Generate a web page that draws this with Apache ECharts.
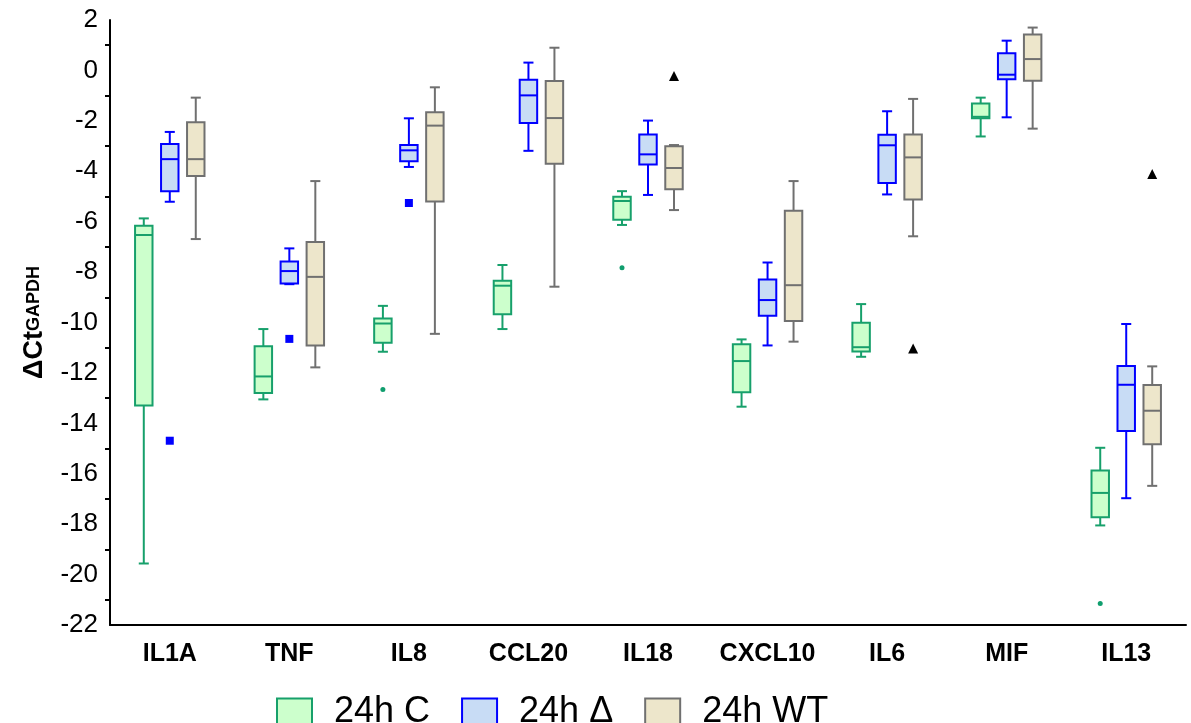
<!DOCTYPE html>
<html>
<head>
<meta charset="utf-8">
<script src="https://cdn.jsdelivr.net/npm/echarts@6/dist/echarts.min.js"></script>
<style>
  html, body { margin: 0; padding: 0; background: #fff; }
  #chart { width: 1191px; height: 723px; }
</style>
</head>
<body>
<div id="chart"></div>
<script>
// genes on the x axis
const categories = ['IL1A', 'TNF', 'IL8', 'CCL20', 'IL18', 'CXCL10', 'IL6', 'MIF', 'IL13'];

// box stats per gene: [min, Q1, median, Q3, max]
const boxC = [
  [-19.56, -13.29, -6.53, -6.16, -5.87],
  [-13.05, -12.80, -12.14, -10.94, -10.26],
  [-11.16, -10.80, -10.04, -9.84, -9.34],
  [-10.26, -9.67, -8.54, -8.34, -7.72],
  [-6.13, -5.92, -5.18, -5.01, -4.79],
  [-13.34, -12.77, -11.53, -10.86, -10.67],
  [-11.36, -11.15, -10.98, -10.01, -9.27],
  [-2.62, -1.90, -1.84, -1.31, -1.08],
  [-18.05, -17.73, -16.76, -15.87, -14.97]
];
const boxDelta = [
  [-5.21, -4.79, -3.52, -2.92, -2.44],
  [-8.48, -8.45, -7.96, -7.58, -7.06],
  [-3.83, -3.60, -3.17, -2.96, -1.90],
  [-3.19, -2.09, -0.99, -0.37, 0.31],
  [-4.94, -3.73, -3.33, -2.54, -1.99],
  [-10.91, -9.73, -9.11, -8.29, -7.62],
  [-4.92, -4.47, -2.97, -2.55, -1.62],
  [-1.86, -0.35, -0.17, 0.68, 1.18],
  [-16.97, -14.30, -12.47, -11.73, -10.06]
];
const boxWT = [
  [-6.69, -4.19, -3.52, -2.06, -1.08],
  [-11.78, -10.91, -8.19, -6.81, -4.39],
  [-10.45, -5.20, -2.19, -1.66, -0.67],
  [-8.58, -3.70, -1.89, -0.42, 0.90],
  [-5.54, -4.71, -3.87, -3.01, -2.96],
  [-10.76, -9.94, -8.52, -5.57, -4.39],
  [-6.58, -5.12, -3.45, -2.54, -1.13],
  [-2.31, -0.41, 0.45, 1.42, 1.70],
  [-16.48, -14.83, -13.50, -12.48, -11.74]
];

// outliers: [gene index, value]
const outC = [[2, -12.66], [4, -7.83], [8, -21.15]];
const outDelta = [[0, -14.69], [1, -10.65], [2, -5.26]];
const outWT = [[4, -0.22], [6, -11.03], [8, -4.11]];

const yTicks = { min: -22, max: 2, interval: 2 };

const FONT = '"Liberation Sans", Arial, sans-serif';
const STYLE = {
  C: { stroke: '#17a06b', fill: '#ccffcc' },
  D: { stroke: '#0000ff', fill: '#c8dcf5' },
  WT: { stroke: '#707070', fill: '#ede6cb' }
};

function boxRenderer(shift, st) {
  return function (params, api) {
    const c = api.value(0);
    const band = api.size([1, 0])[0];
    const x = api.coord([c, 0])[0] + shift * band;
    const py = i => api.coord([c, api.value(i)])[1];
    const yMin = py(1), yQ1 = py(2), yMed = py(3), yQ3 = py(4), yMax = py(5);
    const w = band * 0.146, cap = band * 0.084;
    const line = { stroke: st.stroke, lineWidth: 2 };
    return {
      type: 'group',
      children: [
        { type: 'line', shape: { x1: x, y1: yMax, x2: x, y2: yQ3 }, style: line },
        { type: 'line', shape: { x1: x, y1: yQ1, x2: x, y2: yMin }, style: line },
        { type: 'line', shape: { x1: x - cap / 2, y1: yMax, x2: x + cap / 2, y2: yMax }, style: line },
        { type: 'line', shape: { x1: x - cap / 2, y1: yMin, x2: x + cap / 2, y2: yMin }, style: line },
        { type: 'rect', shape: { x: x - w / 2, y: yQ3, width: w, height: yQ1 - yQ3 },
          style: { fill: st.fill, stroke: st.stroke, lineWidth: 2 } },
        { type: 'line', shape: { x1: x - w / 2, y1: yMed, x2: x + w / 2, y2: yMed }, style: line }
      ]
    };
  };
}

const toRows = arr => arr.map((b, i) => [i, ...b]);

const chart = echarts.init(document.getElementById('chart'));
chart.setOption({
  animation: false,
  grid: { left: 110, right: 5, top: 20, bottom: 98 },
  legend: {
    left: 276, top: 694, padding: 0,
    itemWidth: 35, itemHeight: 27, itemGap: 31,
    textStyle: { fontFamily: FONT, fontSize: 36, color: '#000', padding: [0, 0, 0, 17] },
    data: [
      { name: '24h C', icon: 'rect', itemStyle: { color: STYLE.C.fill, borderColor: STYLE.C.stroke, borderWidth: 2 } },
      { name: '24h Δ', icon: 'rect', itemStyle: { color: STYLE.D.fill, borderColor: STYLE.D.stroke, borderWidth: 2 } },
      { name: '24h WT', icon: 'rect', itemStyle: { color: STYLE.WT.fill, borderColor: STYLE.WT.stroke, borderWidth: 2 } }
    ]
  },
  xAxis: {
    type: 'category',
    data: categories,
    boundaryGap: true,
    axisLine: { onZero: false, lineStyle: { color: '#000', width: 2 } },
    axisTick: { alignWithLabel: true, length: 5, lineStyle: { color: '#000', width: 2 } },
    axisLabel: { interval: 0, fontFamily: FONT, fontSize: 25, fontWeight: 'bold', color: '#000', margin: 17 },
    splitLine: { show: false }
  },
  yAxis: {
    type: 'value',
    min: yTicks.min, max: yTicks.max, interval: yTicks.interval,
    name: '{a|ΔCt}{b|GAPDH}',
    nameLocation: 'middle',
    nameGap: 62,
    nameTextStyle: {
      rich: {
        a: { fontFamily: FONT, fontSize: 27, fontWeight: 'bold', color: '#000' },
        b: { fontFamily: FONT, fontSize: 18, fontWeight: 'bold', color: '#000' }
      }
    },
    axisLine: { show: true, lineStyle: { color: '#000', width: 2 } },
    axisTick: { length: 10, lineStyle: { color: '#000', width: 2 } },
    minorTick: { show: true, splitNumber: 2, length: 5, lineStyle: { color: '#000', width: 2 } },
    axisLabel: { fontFamily: FONT, fontSize: 26, color: '#000', margin: 12 },
    splitLine: { show: false }
  },
  series: [
    { name: '24h C', type: 'custom', itemStyle: { color: STYLE.C.fill },
      renderItem: boxRenderer(-0.2174, STYLE.C), encode: { x: 0, y: [1, 2, 3, 4, 5] }, data: toRows(boxC) },
    { name: '24h Δ', type: 'custom', itemStyle: { color: STYLE.D.fill },
      renderItem: boxRenderer(0, STYLE.D), encode: { x: 0, y: [1, 2, 3, 4, 5] }, data: toRows(boxDelta) },
    { name: '24h WT', type: 'custom', itemStyle: { color: STYLE.WT.fill },
      renderItem: boxRenderer(0.2174, STYLE.WT), encode: { x: 0, y: [1, 2, 3, 4, 5] }, data: toRows(boxWT) },
    { name: 'out C', type: 'scatter', symbol: 'circle', symbolSize: 5, symbolOffset: [-26, 0],
      itemStyle: { color: '#109e6e', opacity: 1 }, data: outC },
    { name: 'out Δ', type: 'scatter', symbol: 'rect', symbolSize: 8, symbolOffset: [0, 0],
      itemStyle: { color: '#0000ff', opacity: 1 }, data: outDelta },
    { name: 'out WT', type: 'scatter', symbol: 'triangle', symbolSize: 10, symbolOffset: [26, 0],
      itemStyle: { color: '#000', opacity: 1 }, data: outWT }
  ]
});
</script>
</body>
</html>
